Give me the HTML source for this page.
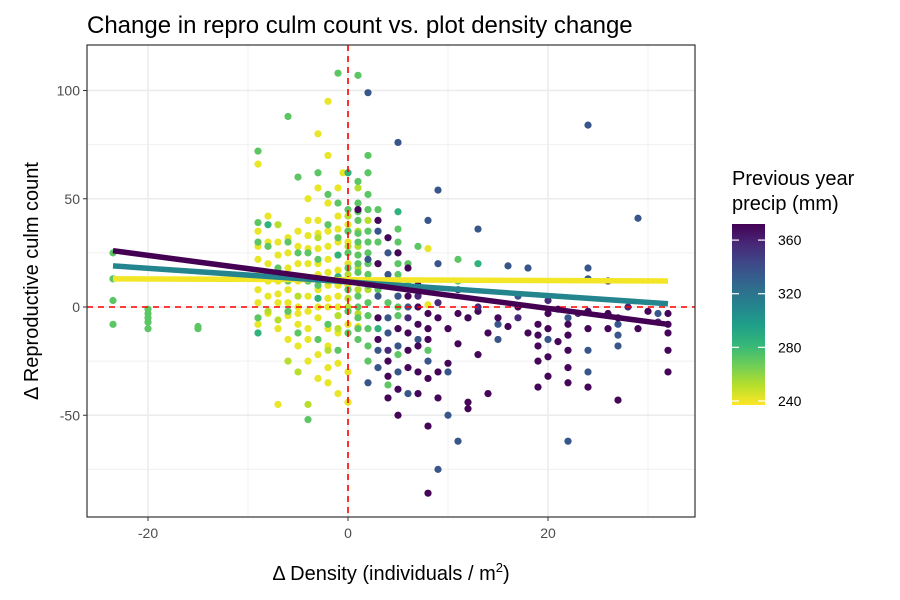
<!DOCTYPE html>
<html><head><meta charset="utf-8"><style>
body{margin:0;background:#fff;}
svg{display:block;font-family:"Liberation Sans",sans-serif;}
</style></head><body>
<svg id="chart" width="900" height="600"></svg>
<script>
const xTicks=[-20,0,20];
const yTicks=[-50,0,50,100];
const legendTicks=[240,280,320,360];
const yellowPts="-9,66 -9,22 -9,15 -9,8 -9,2 -8,20 -8,5 -8,-3 -7,30 -7,12 -7,2 -7,-10 -6,25 -6,18 -6,8 -5,35 -5,28 -5,12 -5,0 -5,-8 -4,50 -4,33 -4,20 -4,5 -4,-15 -3,80 -3,55 -3,40 -3,27 -3,15 -3,-5 -3,-22 -2,95 -2,70 -2,48 -2,35 -2,22 -2,10 -2,0 -2,-18 -2,-28 -1,42 -1,30 -1,17 -1,5 -1,-12 -1,-26 -1,-40 0,-44 0,-30 0,38 0,20 -6,-15 -7,-45 -8,42 -1,55 2,15 -0.5,62 1,24 1,-9 -9,35 -3,-33 -4,-10 -6,-4 8,27 8,8 8,1 -9,28 -8,12 -7,24 -7,6 -6,32 -6,2 -5,20 -5,-3 -4,40 -4,27 -4,12 -4,-2 -3,34 -3,20 -3,8 -3,0 -2,28 -2,16 -2,4 -2,-10 -1,36 -1,24 -1,10 -1,0 0,30 0,10 0,-8 -9,-8 -8,30 -5,-18 -4,-25 -2,-35";
const ygPts="-7,38 -8,-2 -6,-25 -5,-30 -4,-45 -1,-10 0,42 0,15 1,35 1,55 1,8 -3,32 -2,12 -5,5 0,28 2,40 1,-3 3,20 4,10 3,-5 0,0 0,4 1,18 1,28 2,8 -1,-4 -2,-20 -6,14 -7,-6";
const greenPts="-23.5,25 -23.5,13 -23.5,3 -23.5,-8 -20,-3 -20,-7 -20,-10 -20,-1 -20,-5 -15,-9 -15,-10 -9,72 -9,39 -9,30 -9,-5 -6,88 -6,30 -6,-2 -4,-52 -5,60 -3,62 -1,108 1,107 2,70 2,62 2,52 1,48 1,40 1,30 1,20 1,12 1,5 1,-5 1,-15 2,35 2,25 2,15 2,2 2,-10 2,-25 0,45 0,25 0,8 -1,48 -2,52 -3,22 -4,12 -5,-12 -8,28 -7,18 5,36 5,25 5,15 5,5 5,-4 5,-22 7,12 7,28 8,-20 11,22 11,12 -2,-8 -1,-20 -3,-15 4,-36 6,20 3,45 3,30 -6,12 0,-2 1,58 1,44 1,34 1,24 1,16 1,0 1,-10 2,45 2,30 2,20 2,10 2,-4 2,-18 0,35 0,18 0,-12 -1,32 -2,38 -3,10 -4,25 5,30 5,20 5,10 5,0 4,2 3,8 6,10 -5,25";
const midGreenPts="-9,-12 -8,38 -1,24 0,62 3,-10 5,44 13,20 -1,14 -3,4";
const bluePts="2,99 8,40 13,36 5,76 9,54 24,84 29,41 2,-35 3,-20 4,-12 5,-30 5,5 6,0 7,-15 8,-25 10,-30 9,-75 11,-62 15,-15 15,-8 17,5 18,18 20,-15 22,-5 24,18 24,13 24,-20 24,-30 27,-8 27,-13 27,-18 31,-3 22,-62 10,-50 2,22 3,35 4,15 9,20 16,19 6,-40 12,-5 3,5 4,-5 5,-18 3,-28 4,25";
const purplePts="1,45 3,40 4,32 5,25 6,18 7,10 3,-5 3,-15 4,-25 4,-42 5,-50 5,-10 6,-28 7,-8 7,-18 7,-30 7,-40 8,-33 8,-55 8,-86 8,-3 9,-42 10,-10 11,-17 12,-44 12,-47 12,-5 13,-2 13,-22 14,-12 15,-5 17,0 19,-8 19,-13 19,-18 19,-37 20,-3 20,-23 20,-32 21,-16 22,-8 22,-13 22,-20 22,-28 24,-2 24,-37 26,-3 26,-10 27,-5 27,-43 29,-10 30,-2 32,-3 32,-12 32,-20 32,-30 6,5 9,-5 10,-26 11,-3 14,-40 16,-9 18,-12 21,-1 3,20 4,-32 5,-38 6,-12 6,-20 7,0 8,-10 8,-15 9,-30 19,-25 20,-10 22,-35 24,-10 32,-8";
const darkBluePts="20,3 23,-3 26,12 31,-7 28,0 7,5 9,2 11,8 13,0 17,-5 4,-20 6,-5";
const groupPrecip=[242,252,272,285,335,368,355];
const fitStart=[-23.5,-23.5,-23.5];
const fitEnd=[32,32,32];
const fitY0=[26,19,13];
const fitY1=[-8,1.5,12];
const fitPrecip=[370,310,240];

const svg=document.getElementById('chart');
const NS='http://www.w3.org/2000/svg';
const L=87,R=695,T=45,B=517;
const sx=v=>348+v*10;
const sy=v=>307-v*2.165;
const vir=[[68,1,84],[72,40,120],[62,74,137],[49,104,142],[38,130,142],[31,158,137],[53,183,121],[109,205,89],[180,222,44],[253,231,37]];
function col(p){let t=(370-p)/(370-238);t=Math.max(0,Math.min(1,t))*9;const i=Math.min(8,Math.floor(t)),f=t-i;const a=vir[i],b=vir[i+1];return `rgb(${a.map((c,k)=>Math.round(c+(b[k]-c)*f)).join(',')})`;}
function el(tag,attrs,parent){const e=document.createElementNS(NS,tag);for(const k in attrs)e.setAttribute(k,attrs[k]);(parent||svg).appendChild(e);return e;}

const panel=el('g',{});


el('rect',{x:L,y:T,width:R-L,height:B-T,fill:'#fff'},panel);
[-30,-10,10,30].forEach(v=>{if(sx(v)>L&&sx(v)<R)el('line',{x1:sx(v),x2:sx(v),y1:T,y2:B,stroke:'#f0f0f0','stroke-width':1},panel);});
[-75,-25,25,75].forEach(v=>el('line',{x1:L,x2:R,y1:sy(v),y2:sy(v),stroke:'#f0f0f0','stroke-width':1},panel));
xTicks.forEach(v=>el('line',{x1:sx(v),x2:sx(v),y1:T,y2:B,stroke:'#ebebeb','stroke-width':1.5},panel));
yTicks.forEach(v=>el('line',{x1:L,x2:R,y1:sy(v),y2:sy(v),stroke:'#ebebeb','stroke-width':1.5},panel));

const groups=[yellowPts,ygPts,greenPts,midGreenPts,bluePts,purplePts,darkBluePts];
const pg=el('g',{});


groups.forEach((g,gi)=>{g.split(' ').forEach(s=>{const [x,y]=s.split(',').map(Number);
 const c=el('circle',{cx:sx(x),cy:sy(y),r:3.6,fill:col(groupPrecip[gi])},pg);
 
 });});

const ref1=el('line',{x1:L,x2:R,y1:sy(0),y2:sy(0),stroke:'#ff0000','stroke-width':1.6,'stroke-dasharray':'6,5'});


const ref2=el('line',{x1:sx(0),x2:sx(0),y1:T,y2:B,stroke:'#ff0000','stroke-width':1.6,'stroke-dasharray':'6,5'});



for(let i=fitStart.length-1;i>=0;i--){
 const ln=el('line',{x1:sx(fitStart[i]),y1:sy(fitY0[i]),x2:sx(fitEnd[i]),y2:sy(fitY1[i]),stroke:col(fitPrecip[i]),'stroke-width':5.5});
 
 
}
el('rect',{x:L,y:T,width:R-L,height:B-T,fill:'none',stroke:'#333','stroke-width':1.2});

xTicks.forEach(v=>{el('line',{x1:sx(v),x2:sx(v),y1:B,y2:B+4,stroke:'#333'});
 const t=el('text',{x:sx(v),y:B+21,'text-anchor':'middle','font-size':14,fill:'#4d4d4d'});t.textContent=v;
 
 });
yTicks.forEach(v=>{el('line',{x1:L-4,x2:L,y1:sy(v),y2:sy(v),stroke:'#333'});
 const t=el('text',{x:L-7,y:sy(v)+5,'text-anchor':'end','font-size':14,fill:'#4d4d4d'});t.textContent=v;
 
 });

const defs=el('defs',{});
const gr=el('linearGradient',{id:'vg',x1:0,y1:0,x2:0,y2:1},defs);
vir.forEach((c,i)=>el('stop',{offset:i/9,'stop-color':`rgb(${c.join(',')})`},gr));
const cbTop=224,cbBot=405;
const cy=p=>cbBot-(p-237)/(372-237)*(cbBot-cbTop);
const cb=el('rect',{x:732,y:cbTop,width:33,height:cbBot-cbTop,fill:'url(#vg)'});


legendTicks.forEach(p=>{el('line',{x1:732,x2:739,y1:cy(p),y2:cy(p),stroke:'#fff','stroke-width':1.2});
 el('line',{x1:758,x2:765,y1:cy(p),y2:cy(p),stroke:'#fff','stroke-width':1.2});
 const t=el('text',{x:778,y:cy(p)+5,'font-size':14,fill:'#000'});t.textContent=p;
 
 });
</script>
<svg width="900" height="600" style="position:absolute;left:0;top:0;font-family:'Liberation Sans',sans-serif">
<text x="87" y="33" font-size="24" fill="#000">Change in repro culm count vs. plot density change</text>
<text x="732" y="185" font-size="20" fill="#000">Previous year</text>
<text x="732" y="210" font-size="20" fill="#000">precip (mm)</text>
<text x="391" y="580" font-size="20" text-anchor="middle" fill="#000">Δ Density (individuals / m<tspan font-size="13" dy="-8">2</tspan><tspan dy="8">)</tspan></text>
<text transform="translate(38,281) rotate(-90)" font-size="20" text-anchor="middle" fill="#000">Δ Reproductive culm count</text>
</svg>
</body></html>
